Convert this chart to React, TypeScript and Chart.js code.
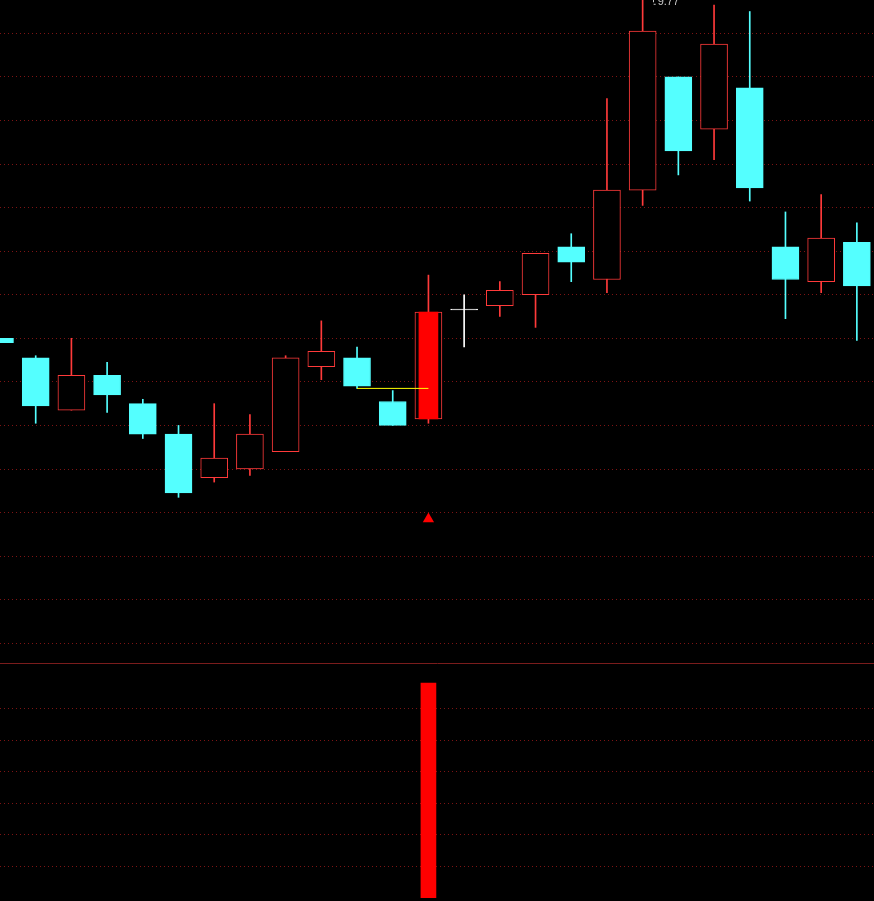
import React, { useEffect, useRef } from 'react';
import { Chart, registerables } from 'chart.js';

Chart.register(...registerables);

// ---- Data (daily candles) ----
const OPEN = [8.20, 8.11, 7.87, 8.03, 7.90, 7.76, 7.56, 7.60, 7.68, 8.07, 8.11, 7.91, 7.83, 8.33, 8.35, 8.40, 8.62, 8.47, 8.88, 9.40, 9.16, 9.35, 8.62, 8.46, 8.64];
const HIGH = [8.20, 8.12, 8.20, 8.09, 7.92, 7.80, 7.90, 7.85, 8.12, 8.28, 8.16, 7.96, 8.49, 8.40, 8.46, 8.59, 8.68, 9.30, 9.77, 9.40, 9.73, 9.70, 8.78, 8.86, 8.73];
const LOW = [8.18, 7.81, 7.87, 7.86, 7.74, 7.47, 7.54, 7.57, 7.68, 8.01, 7.97, 7.80, 7.81, 8.16, 8.30, 8.25, 8.46, 8.41, 8.81, 8.95, 9.02, 8.83, 8.29, 8.41, 8.19];
const CLOSE = [8.18, 7.89, 8.03, 7.94, 7.76, 7.49, 7.65, 7.76, 8.11, 8.14, 7.98, 7.80, 8.32, 8.33, 8.42, 8.59, 8.55, 8.88, 9.61, 9.06, 9.55, 8.89, 8.47, 8.66, 8.44];

// signal day (filled red body, triangle marker, indicator bar)
const SIGNAL_DAYS = [12];
const SIGNAL_MARK_PRICE = [7.37];
// short yellow level line
const LEVEL_FROM = 10;
const LEVEL_TO = 12;
const LEVEL_PRICE = 7.97;

// lower indicator panel
const INDICATOR = [0, 0, 0, 0, 0, 0, 0, 0, 0, 0, 0, 0, 6.8, 0, 0, 0, 0, 0, 0, 0, 0, 0, 0, 0, 0];

// grid levels
const PRICE_GRID = [9.6, 9.4, 9.2, 9.0, 8.8, 8.6, 8.4, 8.2, 8.0, 7.8, 7.6, 7.4, 7.2, 7.0, 6.8];
const INDICATOR_GRID = [1, 2, 3, 4, 5, 6];

// ---- Styles ----
const UP = '#ff3a3a';
const DOWN = '#54ffff';
const FLAT = '#ffffff';
const SIGNAL = '#ff0000';
const GRID = '#7d1414';
const SEPARATOR = '#7a1c1c';
const LEVEL = '#ffff00';
const LABEL = '#c8c8c8';

const X_MIN = 0;
const X_MAX = 24.48;
const PRICE_MIN = 6.7095;
const PRICE_MAX = 9.7529;
const IND_MAX = 7.437;

const colorOf = (i: number) => (CLOSE[i] > OPEN[i] ? UP : CLOSE[i] < OPEN[i] ? DOWN : FLAT);

const highLabelPlugin = {
  id: 'highLabel',
  afterDatasetsDraw(chart: any) {
    const maxHigh = Math.max(...HIGH);
    const idx = HIGH.indexOf(maxHigh);
    const x = chart.scales.x.getPixelForValue(idx);
    const y = chart.scales.y.getPixelForValue(maxHigh);
    const ctx = chart.ctx;
    ctx.save();
    ctx.strokeStyle = LABEL;
    ctx.lineWidth = 1;
    ctx.beginPath();
    ctx.moveTo(Math.round(x + 10) + 0.5, y + 3);
    ctx.lineTo(Math.round(x + 10) + 0.5, y + 6);
    ctx.moveTo(x + 11, y + 8);
    ctx.lineTo(x + 13, y + 8);
    ctx.stroke();
    ctx.fillStyle = LABEL;
    ctx.font = '11px "Liberation Sans", "DejaVu Sans", sans-serif';
    ctx.textBaseline = 'middle';
    ctx.textAlign = 'left';
    ctx.fillText(maxHigh.toFixed(2), x + 15, y + 6);
    ctx.restore();
  },
};

export default function App() {
  const topRef = useRef<HTMLCanvasElement>(null);
  const bottomRef = useRef<HTMLCanvasElement>(null);

  useEffect(() => {
    document.body.style.margin = '0';
    document.body.style.background = '#000';

    const idx = OPEN.map((_, i) => i);

    const top = new Chart(topRef.current as HTMLCanvasElement, {
      type: 'bar',
      data: {
        datasets: [
          {
            type: 'line',
            data: [
              { x: LEVEL_FROM, y: LEVEL_PRICE },
              { x: LEVEL_TO, y: LEVEL_PRICE },
            ],
            borderColor: LEVEL,
            borderWidth: 1,
            pointRadius: 0,
            pointHoverRadius: 0,
            fill: false,
          } as any,
          {
            type: 'line',
            data: SIGNAL_DAYS.map((d, k) => ({ x: d, y: SIGNAL_MARK_PRICE[k] })),
            showLine: false,
            pointStyle: 'triangle',
            pointRadius: 6.5,
            pointHoverRadius: 6.5,
            pointBackgroundColor: SIGNAL,
            pointBorderWidth: 0,
          } as any,
          {
            type: 'bar',
            data: SIGNAL_DAYS.map((d) => ({ x: d, y: [OPEN[d], CLOSE[d]] })),
            backgroundColor: SIGNAL,
            borderWidth: 0,
            barThickness: 19,
            grouped: false,
          } as any,
          {
            type: 'bar',
            data: idx.map((i) => ({ x: i, y: [OPEN[i], CLOSE[i]] })),
            backgroundColor: idx.map((i) => (CLOSE[i] > OPEN[i] ? '#000000' : colorOf(i))),
            borderColor: idx.map(colorOf),
            borderWidth: 1,
            borderSkipped: false,
            minBarLength: 1,
            barThickness: 27,
            grouped: false,
          } as any,
          {
            type: 'bar',
            data: idx.map((i) => ({ x: i, y: [LOW[i], HIGH[i]] })),
            backgroundColor: idx.map(colorOf),
            borderWidth: 0,
            barThickness: 1,
            grouped: false,
          } as any,
        ],
      },
      options: {
        responsive: false,
        animation: false,
        devicePixelRatio: 1,
        layout: { padding: 0, autoPadding: false },
        plugins: { legend: { display: false }, tooltip: { enabled: false } },
        events: [],
        scales: {
          x: {
            type: 'linear',
            min: X_MIN,
            max: X_MAX,
            offset: false,
            display: false,
          },
          y: {
            type: 'linear',
            min: PRICE_MIN,
            max: PRICE_MAX,
            afterBuildTicks: (s: any) => {
              s.ticks = PRICE_GRID.map((v) => ({ value: v }));
            },
            ticks: { display: false },
            grid: { color: GRID, lineWidth: 1, drawTicks: false },
            border: { display: false, dash: [1, 3] },
          },
        },
      } as any,
      plugins: [highLabelPlugin],
    });

    const bottom = new Chart(bottomRef.current as HTMLCanvasElement, {
      type: 'bar',
      data: {
        datasets: [
          {
            data: INDICATOR.map((v, i) => ({ x: i, y: v > 0 ? v : null })),
            backgroundColor: SIGNAL,
            borderWidth: 0,
            barThickness: 15,
            grouped: false,
          } as any,
        ],
      },
      options: {
        responsive: false,
        animation: false,
        devicePixelRatio: 1,
        layout: { padding: 0, autoPadding: false },
        plugins: { legend: { display: false }, tooltip: { enabled: false } },
        events: [],
        scales: {
          x: {
            type: 'linear',
            position: 'top',
            min: X_MIN,
            max: X_MAX,
            offset: false,
            ticks: { display: false },
            grid: { color: 'rgba(0,0,0,0)', drawTicks: false, drawOnChartArea: false },
            border: { display: true, color: SEPARATOR, width: 1 },
          },
          y: {
            type: 'linear',
            min: 0,
            max: IND_MAX,
            afterBuildTicks: (s: any) => {
              s.ticks = INDICATOR_GRID.map((v) => ({ value: v }));
            },
            ticks: { display: false },
            grid: { color: GRID, lineWidth: 1, drawTicks: false },
            border: { display: false, dash: [1, 3] },
          },
        },
      } as any,
    });

    return () => {
      top.destroy();
      bottom.destroy();
    };
  }, []);

  return (
    <div style={{ position: 'relative', width: 874, height: 901, background: '#000', overflow: 'hidden' }}>
      <canvas
        ref={topRef}
        width={874}
        height={663}
        style={{ position: 'absolute', left: 0, top: 0, width: 874, height: 663, display: 'block' }}
      />
      <canvas
        ref={bottomRef}
        width={874}
        height={235}
        style={{ position: 'absolute', left: 0, top: 663, width: 874, height: 235, display: 'block' }}
      />
    </div>
  );
}
